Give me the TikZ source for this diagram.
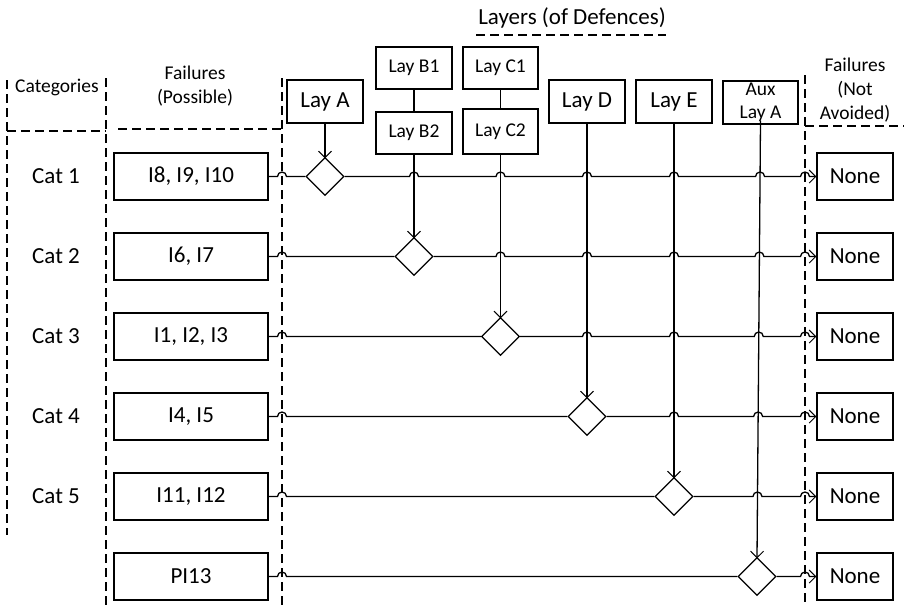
\documentclass[tikz,border=0pt]{standalone}
\usepackage{fontspec}
\setmainfont{Carlito}
\usetikzlibrary{shapes.geometric,arrows.meta,calc}

% a small jump where a line passes over a crossing line
\newcommand\hop[1]{-- ([xshift=-4.5pt]#1) arc[start angle=180,end angle=0,radius=4.5pt]}

\begin{document}
\begin{tikzpicture}[x=1pt,y=-1pt,
  every node/.style={inner sep=0pt},
  bigtext/.style={font=\fontsize{23}{27}\selectfont},
  smalltext/.style={font=\fontsize{19.5}{24}\selectfont},
  box/.style={draw,line width=1.2pt,minimum height=47pt,bigtext},
  failbox/.style={box,minimum width=154pt},
  nonebox/.style={box,minimum width=76pt},
  laybox/.style={draw,line width=1.2pt,minimum width=76pt,minimum height=43pt,bigtext},
  sublay/.style={laybox,minimum height=42pt,smalltext},
  gate/.style={diamond,draw,line width=1.3pt,minimum width=38pt,minimum height=38pt},
  divider/.style={line width=1.2pt,dash pattern=on 9pt off 5pt},
  link/.style={line width=1.3pt},
  feed/.style={link,-{Straight Barb[length=6.5pt,width=13pt,line width=1pt]}},
]
\useasboundingbox (0,0) rectangle (904,605);

% ---- column dividers ----
\coordinate (v1t) at (7,80);    \coordinate (v1b) at (7,535);
\coordinate (v2t) at (106,78);  \coordinate (v2b) at (106,605);
\coordinate (v3t) at (282,78);  \coordinate (v3b) at (282,605);
\coordinate (v4t) at (805,75);  \coordinate (v4b) at (805,605);
\draw[divider] (v1t) -- (v1b);
\draw[divider] (v2t) -- (v2b);
\draw[divider] (v3t) -- (v3b);
\draw[divider] (v4t) -- (v4b);
\coordinate (h1a) at (7,131);   \coordinate (h1b) at (106,131);
\coordinate (h2a) at (118,129); \coordinate (h2b) at (282,129);
\coordinate (h3a) at (805,126); \coordinate (h3b) at (904,126);
\coordinate (h4a) at (476,35);  \coordinate (h4b) at (666,35);
\draw[divider] (h1a) -- (h1b);
\draw[divider] (h2a) -- (h2b);
\draw[divider] (h3a) -- (h3b);
\draw[divider] (h4a) -- (h4b);

% ---- headings ----
\node[bigtext] (title) at (572,18) {Layers (of Defences)};
\node[smalltext] (hcat) at (57,87) {Categories};
\node[smalltext,align=center] (hfail) at (195,86) {Failures\\(Possible)};
\node[smalltext,align=center] (hnot) at (855,90) {Failures\\(Not\\Avoided)};

% ---- layers ----
\node[laybox] (la) at (325,101.5) {Lay A};
\node[sublay] (lb1) at (414,68) {Lay B1};
\node[sublay] (lb2) at (414,133) {Lay B2};
\node[sublay,minimum width=75pt] (lc1) at (500.5,68) {Lay C1};
\node[sublay,minimum width=75pt,minimum height=45pt] (lc2) at (500.5,131.5) {Lay C2};
\node[laybox] (ld) at (587,101.5) {Lay D};
\node[laybox] (le) at (674,101.5) {Lay E};
\node[laybox,minimum width=75pt,smalltext,align=center] (aux) at (760.5,102.5) {Aux\\[-1pt]Lay A};

% ---- rows ----
\foreach \i/\c/\f in {1/Cat 1/{I8, I9, I10},2/Cat 2/{I6, I7},3/Cat 3/{I1, I2, I3},
                      4/Cat 4/{I4, I5},5/Cat 5/{I11, I12},6//PI13}{
  \pgfmathsetmacro\ry{176.5+80*(\i-1)}
  \node[bigtext] (c\i) at (56,\ry) {\c};
  \node[failbox] (f\i) at (191,\ry) {\f};
  \node[nonebox] (n\i) at (855,\ry) {None};
}

% ---- gates ----
\node[gate] (g1) at (la |- f1) {};
\node[gate] (g2) at (lb2 |- f2) {};
\node[gate] (g3) at (lc2 |- f3) {};
\node[gate] (g4) at (ld |- f4) {};
\node[gate] (g5) at (le |- f5) {};
\node[gate] (g6) at (757,576.5) {};

% ---- layer lines down to the gates (tips sit on the gate corners) ----
\draw[link] (lb1) -- (lb2);
\draw[link] (lc1) -- (lc2);
\draw[feed] (la.south) -- ([yshift=-1.5pt]g1.north);
\draw[feed] (lb2.south) -- ([yshift=-1.5pt]g2.north);
\draw[feed] (lc2.south) -- ([yshift=-1.5pt]g3.north);
\draw[feed] (ld.south) -- ([yshift=-1.5pt]g4.north);
\draw[feed] (le.south) -- ([yshift=-1.5pt]g5.north);
\draw[feed] ([yshift=4pt]aux.south) -- ([yshift=-1.5pt]g6.north);
\foreach \i in {1,...,5}{
  \coordinate (ax\i) at ($(aux.south)!(f\i.east)!(g6.north)$);
}

% ---- failure paths ----
\draw[link] (f1.east) \hop{v3t |- f1} -- (g1.west);
\draw[feed] (g1.east) \hop{lb2 |- f1} \hop{lc2 |- f1} \hop{ld |- f1}
  \hop{le |- f1} \hop{ax1 |- f1} \hop{v4t |- f1} -- (n1.west);

\draw[link] (f2.east) \hop{v3t |- f2} -- (g2.west);
\draw[feed] (g2.east) \hop{lc2 |- f2} \hop{ld |- f2}
  \hop{le |- f2} \hop{ax2 |- f2} \hop{v4t |- f2} -- (n2.west);

\draw[link] (f3.east) \hop{v3t |- f3} -- (g3.west);
\draw[feed] (g3.east) \hop{ld |- f3}
  \hop{le |- f3} \hop{ax3 |- f3} \hop{v4t |- f3} -- (n3.west);

\draw[link] (f4.east) \hop{v3t |- f4} -- (g4.west);
\draw[feed] (g4.east) \hop{le |- f4} \hop{ax4 |- f4} \hop{v4t |- f4} -- (n4.west);

\draw[link] (f5.east) \hop{v3t |- f5} -- (g5.west);
\draw[feed] (g5.east) \hop{ax5 |- f5} \hop{v4t |- f5} -- (n5.west);

\draw[link] (f6.east) \hop{v3t |- f6} -- (g6.west);
\draw[feed] (g6.east) \hop{v4t |- f6} -- (n6.west);
\end{tikzpicture}
\end{document}
